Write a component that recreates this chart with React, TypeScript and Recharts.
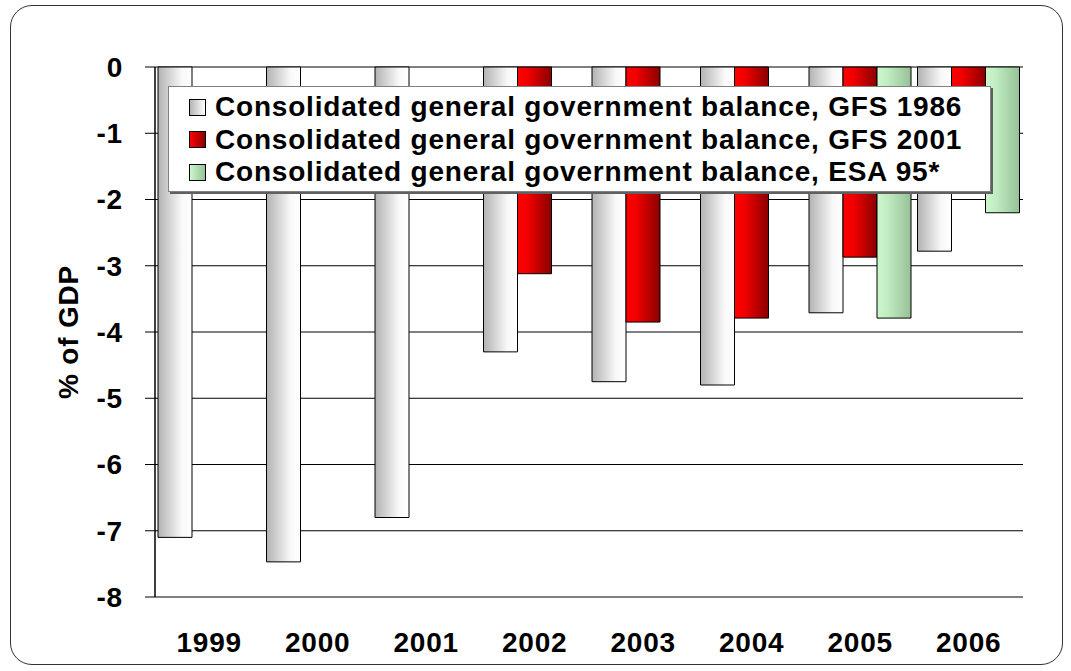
import { BarChart, Bar, XAxis, YAxis, CartesianGrid, Legend } from "recharts";

const years = ["1999", "2000", "2001", "2002", "2003", "2004", "2005", "2006"];
const gfs1986 = [-7.1, -7.47, -6.8, -4.3, -4.75, -4.8, -3.71, -2.78];
const gfs2001 = [null, null, null, -3.12, -3.85, -3.79, -2.87, -1.5];
const esa95 = [null, null, null, null, null, null, -3.79, -2.2];
const yTicks = [0, -1, -2, -3, -4, -5, -6, -7, -8];

const seriesInfo = [
  { key: "gfs1986", name: "Consolidated general government balance, GFS 1986", fill: "url(#gradGray)", swatch: "linear-gradient(to right, #b4b4b4, #ffffff)" },
  { key: "gfs2001", name: "Consolidated general government balance, GFS 2001", fill: "url(#gradRed)", swatch: "linear-gradient(to right, #ff0000, #8a0000)" },
  { key: "esa95", name: "Consolidated general government balance, ESA 95*", fill: "url(#gradGreen)", swatch: "linear-gradient(to right, #ccf6cc, #98c298)" },
];

const data = years.map((year, i) => ({
  year,
  gfs1986: gfs1986[i],
  gfs2001: gfs2001[i],
  esa95: esa95[i],
}));

const FONT = "'Liberation Sans', Arial, sans-serif";
const textStyle = { fontFamily: FONT, fontWeight: 700, fontSize: 28, fill: "#000", letterSpacing: 0.8 };

const LegendBox = () => (
  <div
    style={{
      background: "#fff",
      border: "1px solid #808080",
      boxShadow: "2px 2px 0 #606060",
      padding: "4px 0 0 20px",
      boxSizing: "border-box",
      width: 823,
      height: 106,
    }}
  >
    {seriesInfo.map((s) => (
      <div key={s.key} style={{ display: "flex", alignItems: "center", height: 32.5 }}>
        <div
          style={{
            width: 17,
            height: 17,
            border: "1px solid #000",
            background: s.swatch,
            marginRight: 9,
            boxSizing: "border-box",
          }}
        />
        <span style={{ fontFamily: FONT, fontWeight: 700, fontSize: 28, letterSpacing: 0.8, color: "#000", whiteSpace: "nowrap" }}>
          {s.name}
        </span>
      </div>
    ))}
  </div>
);

export default function App() {
  return (
    <div style={{ position: "absolute", left: 0, top: 0, width: 1071, height: 671, background: "#fff" }}>
      <div
        style={{
          position: "absolute",
          left: 10,
          top: 5,
          width: 1053,
          height: 660,
          border: "1.5px solid #333",
          borderRadius: 22,
          boxSizing: "border-box",
        }}
      />
      <div style={{ position: "absolute", left: 0, top: 0 }}>
        <BarChart
          width={1071}
          height={671}
          data={data}
          margin={{ top: 67, right: 48, bottom: 44, left: 55 }}
          barSize={34}
          barGap={0}
        >
          <defs>
            <linearGradient id="gradGray" x1="0" y1="0" x2="1" y2="0">
              <stop offset="0" stopColor="#b2b2b2" />
              <stop offset="0.7" stopColor="#f8f8f8" />
              <stop offset="1" stopColor="#ffffff" />
            </linearGradient>
            <linearGradient id="gradRed" x1="0" y1="0" x2="1" y2="0">
              <stop offset="0" stopColor="#ff0000" />
              <stop offset="0.3" stopColor="#f20000" />
              <stop offset="1" stopColor="#8a0000" />
            </linearGradient>
            <linearGradient id="gradGreen" x1="0" y1="0" x2="1" y2="0">
              <stop offset="0" stopColor="#ccf6cc" />
              <stop offset="0.3" stopColor="#c2ecc2" />
              <stop offset="1" stopColor="#96c096" />
            </linearGradient>
          </defs>
          <CartesianGrid vertical={false} stroke="#000" strokeWidth={1} />
          <XAxis
            dataKey="year"
            height={30}
            axisLine={false}
            tickLine={false}
            tickSize={0}
            tickMargin={35}
            tick={textStyle}
          />
          <YAxis
            domain={[-8, 0]}
            ticks={yTicks}
            interval={0}
            width={100}
            tickSize={10}
            tickMargin={22}
            axisLine={{ stroke: "#000", strokeWidth: 1.5 }}
            tickLine={{ stroke: "#000" }}
            tick={textStyle}
            label={{
              value: "% of GDP",
              angle: -90,
              position: "insideLeft",
              offset: 13,
              style: { ...textStyle, textAnchor: "middle" },
            }}
          />
          <YAxis
            yAxisId="right"
            orientation="right"
            domain={[-8, 0]}
            width={0}
            tick={false}
            tickLine={false}
            axisLine={{ stroke: "#808080", strokeWidth: 2 }}
          />
          <Legend
            layout="vertical"
            align="center"
            verticalAlign="middle"
            wrapperStyle={{ left: 168, top: 86, width: 823, height: 106 }}
            content={() => <LegendBox />}
          />
          {seriesInfo.map((s) => (
            <Bar
              key={s.key}
              dataKey={s.key}
              name={s.name}
              fill={s.fill}
              stroke="#000"
              strokeWidth={1}
              isAnimationActive={false}
            />
          ))}
        </BarChart>
      </div>
    </div>
  );
}
